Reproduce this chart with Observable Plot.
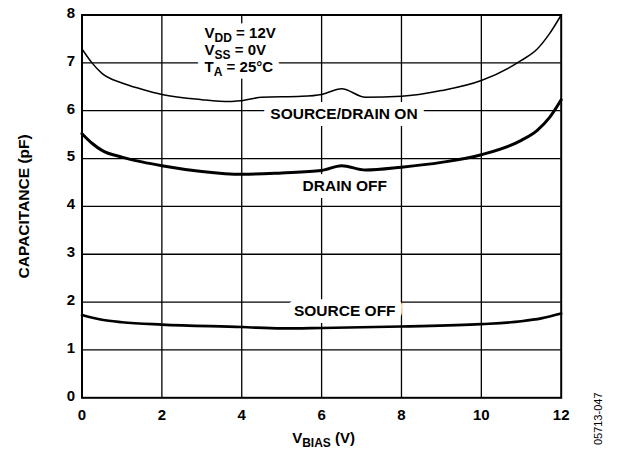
<!DOCTYPE html>
<html>
<head>
<meta charset="utf-8">
<script src="https://cdn.jsdelivr.net/npm/d3@7"></script>
<script src="https://cdn.jsdelivr.net/npm/@observablehq/plot@0.6"></script>
<style>
  html, body { margin: 0; padding: 0; background: #fff; }
</style>
</head>
<body>
<div id="chart"></div>
<script>
// --- data ---
const onX   = [0, 0.25, 0.5, 1, 1.5, 2, 3, 3.7, 4, 4.5, 5.5, 6, 6.5, 7.1, 8, 9, 10, 11, 11.4, 11.7, 12];
const onY   = [7.29, 7.00, 6.78, 6.58, 6.45, 6.34, 6.23, 6.19, 6.21, 6.28, 6.30, 6.34, 6.46, 6.28, 6.30, 6.42, 6.63, 7.05, 7.29, 7.60, 8.0];
const drainX = [0, 0.25, 0.5, 1, 1.5, 2, 3, 4, 5, 6, 6.5, 7.1, 8, 9, 10, 11, 11.4, 11.7, 12];
const drainY = [5.52, 5.32, 5.17, 5.03, 4.93, 4.85, 4.73, 4.67, 4.70, 4.75, 4.85, 4.76, 4.82, 4.92, 5.08, 5.38, 5.59, 5.85, 6.23];
const srcX  = [0, 0.5, 1, 2, 4, 5, 6, 8, 10, 11, 11.5, 12];
const srcY  = [1.73, 1.63, 1.58, 1.53, 1.48, 1.45, 1.46, 1.49, 1.54, 1.60, 1.66, 1.76];

const xTicks = [0, 2, 4, 6, 8, 10, 12];
const yTicks = [0, 1, 2, 3, 4, 5, 6, 7, 8];
const xGrid = [2, 4, 6, 8, 10];
const yGrid = [1, 2, 3, 4, 5, 6, 7];

const seriesNames = ["SOURCE/DRAIN ON", "DRAIN OFF", "SOURCE OFF"];
const labelX = [6.56, 6.58, 6.58];
const labelY = [5.93, 4.42, 1.81];

const condLines = ["V_{DD} = 12V", "V_{SS} = 0V", "T_{A} = 25°C"];
const condX = 3.07;
const condY = [7.62, 7.27, 6.91];

const xTitle = "V_{BIAS} (V)";
const yTitle = "CAPACITANCE (pF)";
const figId = "05713-047";

// --- tables ---
const toRows = (xs, ys) => xs.map((x, i) => ({x, y: ys[i]}));
const onRows = toRows(onX, onY);
const drainRows = toRows(drainX, drainY);
const srcRows = toRows(srcX, srcY);
const labelRows = seriesNames.map((t, i) => ({t, x: labelX[i], y: labelY[i]}));
const condRows = condLines.map((t, i) => ({t, x: condX, y: condY[i]}));

const font = "'Liberation Sans', Arial, Helvetica, sans-serif";
const labelOpts = {x: "x", y: "y", text: "t", fontSize: 15.5, textAnchor: "middle", lineAnchor: "middle"};
const condOpts = {x: "x", y: "y", text: "t", fontSize: 15, textAnchor: "start", lineAnchor: "middle"};

const chart = Plot.plot({
  width: 619,
  height: 450,
  marginLeft: 81.5,
  marginRight: 58.3,
  marginTop: 14.5,
  marginBottom: 52.7,
  x: {domain: [0, 12]},
  y: {domain: [0, 8]},
  style: {fontFamily: font, fontWeight: "bold", background: "#fff", color: "#000", overflow: "visible"},
  marks: [
    Plot.ruleX(xGrid, {stroke: "#000", strokeWidth: 1.3}),
    Plot.ruleY(yGrid, {stroke: "#000", strokeWidth: 1.3}),
    // white halos (backgrounds) under the labels
    Plot.text(labelRows, {...labelOpts, fill: "#fff", stroke: "#fff", strokeWidth: 14}),
    Plot.text(condRows, {...condOpts, fill: "#fff", stroke: "#fff", strokeWidth: 13}),
    // label text
    Plot.text(labelRows, {...labelOpts, fill: "#000"}),
    Plot.text(condRows, {...condOpts, fill: "#000"}),
    Plot.line(onRows, {x: "x", y: "y", curve: "monotone-x", stroke: "#000", strokeWidth: 1.5}),
    Plot.line(drainRows, {x: "x", y: "y", curve: "monotone-x", stroke: "#000", strokeWidth: 3}),
    Plot.line(srcRows, {x: "x", y: "y", curve: "monotone-x", stroke: "#000", strokeWidth: 2.6}),
    Plot.frame({stroke: "#000", strokeWidth: 2}),
    Plot.axisX(xTicks, {tickSize: 0, tickPadding: 12, fontSize: 15, label: null}),
    Plot.axisY(yTicks, {tickSize: 0, tickPadding: 7, dy: -2, fontSize: 15, label: null}),
    Plot.text([yTitle], {text: d => d, frameAnchor: "left", dx: -58, rotate: -90,
      fontSize: 15.5, textAnchor: "middle", lineAnchor: "middle", fill: "#000"}),
    Plot.text([xTitle], {text: d => d, frameAnchor: "bottom", dx: 2, dy: 40,
      fontSize: 15, textAnchor: "middle", lineAnchor: "middle", fill: "#000"}),
    Plot.text([figId], {text: d => d, frameAnchor: "bottom-right", dx: 37, dy: 21, rotate: -90,
      fontSize: 11, fontWeight: "normal", textAnchor: "middle", lineAnchor: "middle", fill: "#000"})
  ]
});

// subscripts: turn "_{..}" into lowered, smaller tspans
const NS = "http://www.w3.org/2000/svg";
chart.querySelectorAll("text").forEach(t => {
  const s = t.textContent;
  if (!s.includes("_{")) return;
  const size = 15;
  const sub = 12;
  const shift = 4;
  const parts = s.split(/(_\{[^}]*\})/);
  while (t.firstChild) t.removeChild(t.firstChild);
  let lowered = false;
  for (const p of parts) {
    if (!p) continue;
    const ts = document.createElementNS(NS, "tspan");
    if (p.startsWith("_{")) {
      ts.textContent = p.slice(2, -1);
      ts.setAttribute("font-size", sub);
      ts.setAttribute("dy", shift);
      lowered = true;
    } else {
      ts.textContent = p;
      if (lowered) { ts.setAttribute("dy", -shift); lowered = false; }
    }
    t.appendChild(ts);
  }
});

document.getElementById("chart").appendChild(chart);
</script>
</body>
</html>
